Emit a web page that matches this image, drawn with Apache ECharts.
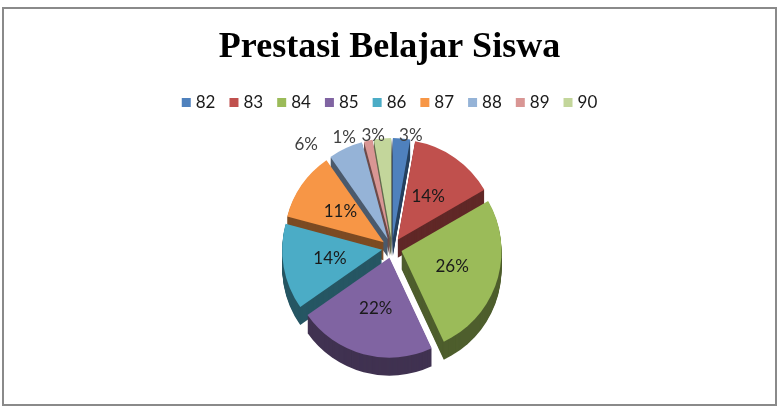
<!DOCTYPE html>
<html>
<head>
<meta charset="utf-8">
<script src="https://cdn.jsdelivr.net/npm/echarts@6/dist/echarts.min.js"></script>
<style>
html,body{margin:0;padding:0;background:#fff;}
#chart{width:779px;height:416px;}
</style>
</head>
<body>
<div id="chart"></div>
<script>
// ---- data ----
const titleText = 'Prestasi Belajar Siswa';
const categories = ['82', '83', '84', '85', '86', '87', '88', '89', '90'];
const counts = [2, 10, 19, 16, 10, 8, 4, 1, 2];
const outsideLabelCats = ['82', '88', '89', '90'];

// ---- styles ----
const topColors = ['#4F81BD', '#C0504D', '#9BBB59', '#8064A2', '#4BACC6', '#F79646', '#95B3D7', '#D99694', '#C3D69B'];
function shade(hex, f) {
  const n = parseInt(hex.slice(1), 16);
  const r = Math.round(((n >> 16) & 255) * f);
  const g = Math.round(((n >> 8) & 255) * f);
  const b = Math.round((n & 255) * f);
  return 'rgb(' + r + ',' + g + ',' + b + ')';
}
const sideColors = topColors.map(c => shade(c, 0.5));
// label nudges for the small outside labels (style only)
const labelNudge = { '82': [-8, 3], '88': [-20, 2], '89': [-6, 3], '90': [8, 3] };

const CX = 392, CY = 248, R = 100, DEPTH = 18, OFFSET = 10;

function pieData(colors, withLabels) {
  return categories.map((name, i) => {
    const item = {
      name: name,
      value: counts[i],
      selected: true,
      itemStyle: { color: colors[i] }
    };
    if (withLabels && outsideLabelCats.indexOf(name) >= 0) {
      item.label = { position: 'outside', color: '#404040' };
      item.labelLine = { show: false, length: 6, length2: 0 };
    }
    return item;
  });
}

const series = [{
  type: 'pie',
  name: 'top',
  z: 3,
  center: [CX, CY],
  radius: [0, R],
  startAngle: 90,
  clockwise: true,
  selectedMode: 'multiple',
  selectedOffset: OFFSET,
  avoidLabelOverlap: false,
  percentPrecision: 0,
  animation: false,
  silent: true,
  label: {
    show: true,
    position: 'inside',
    formatter: '{d}%',
    fontFamily: 'Lato',
    fontSize: 17,
    color: '#1a1a1a'
  },
  labelLine: { show: false },
  labelLayout: function (params) {
    const n = labelNudge[categories[params.dataIndex]];
    return n ? { dx: n[0], dy: n[1], hideOverlap: false } : { hideOverlap: false };
  },
  itemStyle: { borderWidth: 0 },
  select: { itemStyle: { borderWidth: 0 } },
  emphasis: { disabled: true },
  data: pieData(topColors, true)
}];

for (let d = DEPTH; d >= 1; d -= 1) {
  series.push({
    type: 'pie',
    name: 'side' + d,
    z: 2,
    center: [CX, CY + d],
    radius: [0, R],
    startAngle: 90,
    clockwise: true,
    selectedMode: 'multiple',
    selectedOffset: OFFSET,
    animation: false,
    silent: true,
    legendHoverLink: false,
    label: { show: false },
    labelLine: { show: false },
    itemStyle: { borderWidth: 0 },
    select: { itemStyle: { borderWidth: 0 } },
    emphasis: { disabled: true },
    data: pieData(sideColors, false)
  });
}

const chart = echarts.init(document.getElementById('chart'), null, { renderer: 'canvas' });
chart.setOption({
  backgroundColor: '#ffffff',
  animation: false,
  graphic: [{
    type: 'rect',
    shape: { x: 3, y: 8, width: 773, height: 397 },
    style: { fill: 'none', stroke: '#8a8a8a', lineWidth: 2 },
    silent: true
  }],
  title: {
    text: titleText,
    left: 'center',
    top: 25,
    textStyle: {
      fontFamily: 'Liberation Serif',
      fontWeight: 'bold',
      fontSize: 36,
      color: '#000000'
    }
  },
  legend: {
    data: categories,
    top: 89,
    left: 'center',
    icon: 'rect',
    itemWidth: 9,
    itemHeight: 9,
    itemGap: 14,
    selectedMode: false,
    textStyle: { fontFamily: 'Lato', fontSize: 17, color: '#1a1a1a' }
  },
  series: series
});
</script>
</body>
</html>
